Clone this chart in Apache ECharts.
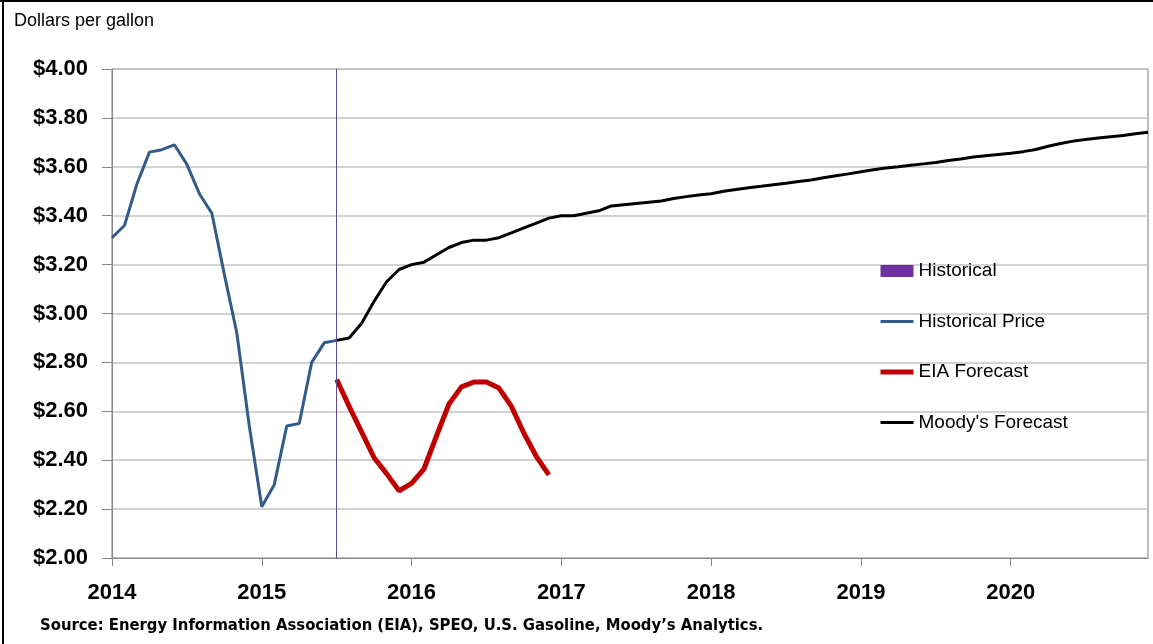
<!DOCTYPE html>
<html>
<head>
<meta charset="utf-8">
<script src="https://cdn.jsdelivr.net/npm/echarts@6/dist/echarts.min.js"></script>
<style>
html,body{margin:0;padding:0;background:#fff;}
#chart{width:1153px;height:644px;}
</style>
</head>
<body>
<div id="chart"></div>
<script>
// ---- data ----
var years = [2014, 2015, 2016, 2017, 2018, 2019, 2020];
var yTicks = [2.0, 2.2, 2.4, 2.6, 2.8, 3.0, 3.2, 3.4, 3.6, 3.8, 4.0];
var seriesNames = ['Historical', 'Historical Price', 'EIA Forecast', "Moody's Forecast"];
var historicalMarkMonth = '2015-07';
// monthly, Jan 2014 .. Jul 2015
var historicalPrice = [3.31, 3.36, 3.53, 3.66, 3.67, 3.69, 3.61, 3.49, 3.41, 3.16,
  2.92, 2.54, 2.21, 2.30, 2.54, 2.55, 2.80, 2.88, 2.89];
// monthly, Jul 2015 .. Dec 2016
var eiaForecast = [2.73, 2.62, 2.515, 2.41, 2.345, 2.275, 2.305, 2.365, 2.50, 2.63,
  2.70, 2.72, 2.72, 2.695, 2.62, 2.51, 2.415, 2.34];
// monthly, Jul 2015 .. Dec 2020
var moodysForecast = [2.89, 2.90, 2.96, 3.05, 3.13, 3.18, 3.20, 3.21, 3.24, 3.27,
  3.29, 3.30, 3.30, 3.31, 3.33, 3.35, 3.37, 3.39, 3.40, 3.40,
  3.41, 3.42, 3.44, 3.445, 3.45, 3.455, 3.46, 3.47, 3.478, 3.485,
  3.49, 3.50, 3.507, 3.514, 3.52, 3.527, 3.533, 3.54, 3.546, 3.555,
  3.563, 3.571, 3.58, 3.588, 3.595, 3.60, 3.606, 3.612, 3.618, 3.626,
  3.632, 3.64, 3.645, 3.65, 3.655, 3.662, 3.671, 3.684, 3.695, 3.705,
  3.712, 3.718, 3.723, 3.728, 3.735, 3.741];

// ---- build category axis (months) ----
var months = [];
years.forEach(function (y) {
  for (var m = 1; m <= 12; m++) months.push(y + '-' + (m < 10 ? '0' + m : m));
});
function place(values, startMonth) {
  var start = months.indexOf(startMonth);
  var out = months.map(function () { return null; });
  values.forEach(function (v, i) { out[start + i] = v; });
  return out;
}
var histData = place(historicalPrice, '2014-01');
var eiaData = place(eiaForecast, '2015-07');
var moodyData = place(moodysForecast, '2015-07');

var chart = echarts.init(document.getElementById('chart'), null, {renderer: 'canvas'});
var isYearStart = function (idx) { return idx % 12 === 0; };
var hideSym = {opacity: 0};

chart.setOption({
  animation: false,
  backgroundColor: '#ffffff',
  grid: {left: 112, right: 5, top: 69, bottom: 86, show: true, borderColor: '#7a7a7a', borderWidth: 1, backgroundColor: 'transparent'},
  graphic: [
    {type: 'text', left: 14, top: 12, style: {text: 'Dollars per gallon', font: '18px "Liberation Sans", Arial, sans-serif', fill: '#000'}},
    {type: 'text', left: 40, top: 617, style: {text: 'Source: Energy Information Association (EIA), SPEO, U.S. Gasoline, Moody\u2019s Analytics.', font: 'bold 16.5px "DejaVu Sans Condensed", "DejaVu Sans", sans-serif', fill: '#000'}},
    {type: 'line', shape: {x1: 0, y1: 1, x2: 1153, y2: 1}, style: {stroke: '#000', lineWidth: 2}},
    {type: 'line', shape: {x1: 3, y1: 0, x2: 3, y2: 644}, style: {stroke: '#000', lineWidth: 2}}
  ],
  legend: {
    orient: 'vertical',
    left: 878,
    top: 261,
    padding: 0,
    itemWidth: 33,
    itemHeight: 12,
    itemGap: 30.5,
    textStyle: {fontFamily: '"Liberation Sans", Arial, sans-serif', fontSize: 19, color: '#000', lineHeight: 20},
    data: [
      {name: seriesNames[0], icon: 'rect'},
      {name: seriesNames[1], itemStyle: hideSym, lineStyle: {width: 3}},
      {name: seriesNames[2], itemStyle: hideSym, lineStyle: {width: 5}},
      {name: seriesNames[3], itemStyle: hideSym, lineStyle: {width: 3}}
    ]
  },
  xAxis: {
    type: 'category',
    data: months,
    boundaryGap: false,
    axisLine: {lineStyle: {color: '#868686', width: 1}},
    axisTick: {show: true, interval: isYearStart, length: 8, lineStyle: {color: '#868686'}},
    axisLabel: {
      interval: isYearStart,
      margin: 24,
      formatter: function (v) { return v.slice(0, 4); },
      fontFamily: '"Liberation Sans", Arial, sans-serif',
      fontWeight: 'bold', fontSize: 22, color: '#000'
    },
    splitLine: {show: false}
  },
  yAxis: {
    type: 'value',
    min: yTicks[0],
    max: yTicks[yTicks.length - 1],
    interval: 0.2,
    axisLine: {show: true, lineStyle: {color: '#868686', width: 1}},
    axisTick: {show: true, length: 10, lineStyle: {color: '#868686'}},
    axisLabel: {
      margin: 24,
      formatter: function (v) { return '$' + v.toFixed(2); },
      fontFamily: '"Liberation Sans", Arial, sans-serif',
      fontWeight: 'bold', fontSize: 22, color: '#000'
    },
    splitLine: {show: true, lineStyle: {color: '#c4c4c4', width: 1.5}}
  },
  series: [
    {
      name: seriesNames[0], type: 'line', data: [], symbol: 'none',
      itemStyle: {color: '#7030a0'},
      lineStyle: {color: '#7030a0'},
      markLine: {
        silent: true, symbol: 'none', label: {show: false},
        lineStyle: {color: '#5e4a8e', width: 1, type: 'solid'},
        data: [{xAxis: historicalMarkMonth}]
      }
    },
    {
      name: seriesNames[1], type: 'line', data: histData, symbol: 'none', connectNulls: false,
      itemStyle: {color: '#335b8a'}, lineStyle: {color: '#335b8a', width: 3}
    },
    {
      name: seriesNames[2], type: 'line', data: eiaData, symbol: 'none',
      itemStyle: {color: '#c00000'}, lineStyle: {color: '#c00000', width: 5}
    },
    {
      name: seriesNames[3], type: 'line', data: moodyData, symbol: 'none',
      itemStyle: {color: '#000000'}, lineStyle: {color: '#000000', width: 3}
    }
  ]
});
</script>
</body>
</html>
